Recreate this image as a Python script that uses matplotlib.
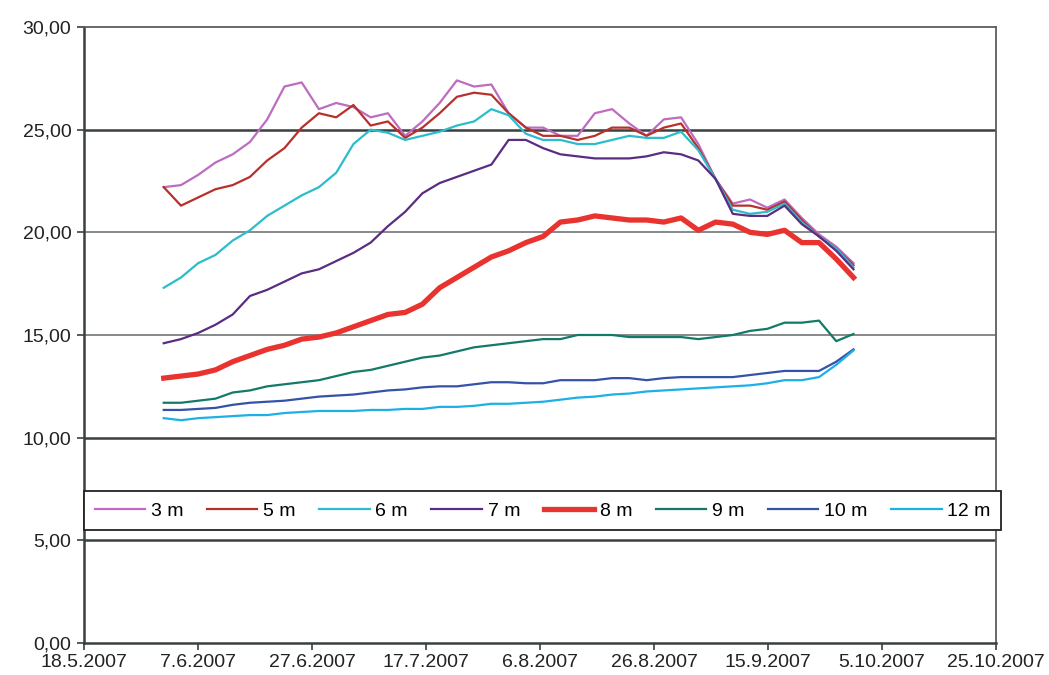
import numpy as np
import pandas as pd
import matplotlib
matplotlib.use('Agg')
import matplotlib.pyplot as plt
import matplotlib.dates as mdates
from matplotlib.ticker import FuncFormatter

# sampling dates (about every 3 days, 1.6. - 30.9.2007)
dates = pd.date_range('2007-06-01', '2007-09-30', periods=41)

# water temperature per depth
t3 = [22.2, 22.3, 22.8, 23.4, 23.8, 24.4, 25.5, 27.1, 27.3, 26.0, 26.3, 26.1, 25.6, 25.8,
      24.7, 25.4, 26.3, 27.4, 27.1, 27.2, 25.8, 25.1, 25.1, 24.7, 24.7, 25.8, 26.0,
      25.3, 24.7, 25.5, 25.6, 24.3, 22.6, 21.4, 21.6, 21.2, 21.6, 20.7, 19.9, 19.3, 18.5]
t5 = [22.2, 21.3, 21.7, 22.1, 22.3, 22.7, 23.5, 24.1, 25.1, 25.8, 25.6, 26.2, 25.2, 25.4,
      24.6, 25.1, 25.8, 26.6, 26.8, 26.7, 25.8, 25.1, 24.7, 24.7, 24.5, 24.7, 25.1,
      25.1, 24.7, 25.1, 25.3, 24.1, 22.6, 21.3, 21.3, 21.1, 21.5, 20.6, 19.8, 19.2, 18.4]
t6 = [17.3, 17.8, 18.5, 18.9, 19.6, 20.1, 20.8, 21.3, 21.8, 22.2, 22.9, 24.3, 25.0, 24.85,
      24.5, 24.7, 24.9, 25.2, 25.4, 26.0, 25.7, 24.8, 24.5, 24.5, 24.3, 24.3, 24.5,
      24.7, 24.6, 24.6, 24.9, 24.0, 22.6, 21.1, 20.9, 21.0, 21.4, 20.5, 19.8, 19.2, 18.3]
t7 = [14.6, 14.8, 15.1, 15.5, 16.0, 16.9, 17.2, 17.6, 18.0, 18.2, 18.6, 19.0, 19.5, 20.3,
      21.0, 21.9, 22.4, 22.7, 23.0, 23.3, 24.5, 24.5, 24.1, 23.8, 23.7, 23.6, 23.6,
      23.6, 23.7, 23.9, 23.8, 23.5, 22.6, 20.9, 20.8, 20.8, 21.3, 20.4, 19.8, 19.1, 18.2]
t8 = [12.9, 13.0, 13.1, 13.3, 13.7, 14.0, 14.3, 14.5, 14.8, 14.9, 15.1, 15.4, 15.7, 16.0,
      16.1, 16.5, 17.3, 17.8, 18.3, 18.8, 19.1, 19.5, 19.8, 20.5, 20.6, 20.8, 20.7,
      20.6, 20.6, 20.5, 20.7, 20.1, 20.5, 20.4, 20.0, 19.9, 20.1, 19.5, 19.5, 18.7, 17.8]
t9 = [11.7, 11.7, 11.8, 11.9, 12.2, 12.3, 12.5, 12.6, 12.7, 12.8, 13.0, 13.2, 13.3, 13.5,
      13.7, 13.9, 14.0, 14.2, 14.4, 14.5, 14.6, 14.7, 14.8, 14.8, 15.0, 15.0, 15.0,
      14.9, 14.9, 14.9, 14.9, 14.8, 14.9, 15.0, 15.2, 15.3, 15.6, 15.6, 15.7, 14.7, 15.05]
t10 = [11.35, 11.35, 11.4, 11.45, 11.6, 11.7, 11.75, 11.8, 11.9, 12.0, 12.05, 12.1, 12.2, 12.3,
       12.35, 12.45, 12.5, 12.5, 12.6, 12.7, 12.7, 12.65, 12.65, 12.8, 12.8, 12.8, 12.9,
       12.9, 12.8, 12.9, 12.95, 12.95, 12.95, 12.95, 13.05, 13.15, 13.25, 13.25, 13.25, 13.7, 14.3]
t12 = [10.95, 10.85, 10.95, 11.0, 11.05, 11.1, 11.1, 11.2, 11.25, 11.3, 11.3, 11.3, 11.35, 11.35,
       11.4, 11.4, 11.5, 11.5, 11.55, 11.65, 11.65, 11.7, 11.75, 11.85, 11.95, 12.0, 12.1,
       12.15, 12.25, 12.3, 12.35, 12.4, 12.45, 12.5, 12.55, 12.65, 12.8, 12.8, 12.95, 13.55, 14.25]

labels = ['3 m', '5 m', '6 m', '7 m', '8 m', '9 m', '10 m', '12 m']
series = [t3, t5, t6, t7, t8, t9, t10, t12]
colors = ['#bd6cbf', '#b8302c', '#2bbdcb', '#5a2c82', '#e8332f', '#137a6a', '#3452a8', '#1db0e6']
widths = [1.6, 1.6, 1.6, 1.6, 3.8, 1.6, 1.6, 1.6]

yticks = [0, 5, 10, 15, 20, 25, 30]

plt.rcParams['font.family'] = ['Liberation Sans', 'DejaVu Sans']

fig = plt.figure(figsize=(10.49, 6.75), dpi=100)
ax = fig.add_axes([0.080, 0.0474, 0.8695, 0.9126])

# horizontal grid, some lines darker like in the original
for v in [5, 10, 25]:
    ax.axhline(v, color='#3a3f3f', lw=1.8, zorder=1)
for v in [15, 20]:
    ax.axhline(v, color='#7d8080', lw=1.3, zorder=1)

for vals, lab, c, w in zip(series, labels, colors, widths):
    ax.plot(dates, vals, color=c, lw=w, label=lab, zorder=3)

ax.set_xlim(pd.Timestamp('2007-05-18'), pd.Timestamp('2007-10-25'))
ax.set_ylim(0, 30)
ax.set_yticks(yticks)
ax.yaxis.set_major_formatter(FuncFormatter(lambda v, p: ('%.2f' % v).replace('.', ',')))

xt = pd.date_range('2007-05-18', '2007-10-25', freq='20D')
ax.set_xticks(xt)
ax.xaxis.set_major_formatter(FuncFormatter(
    lambda v, p: '%d.%d.%d' % (mdates.num2date(v).day, mdates.num2date(v).month, mdates.num2date(v).year)))

ax.tick_params(axis='both', direction='out', length=5, width=1.2, color='#3a3f3f',
               labelsize=14, labelcolor='#222222')
ax.tick_params(axis='x', pad=3)
ax.tick_params(axis='y', pad=4)
for s in ['left', 'bottom']:
    ax.spines[s].set_linewidth(1.8)
    ax.spines[s].set_color('#3a3f3f')
for s in ['top', 'right']:
    ax.spines[s].set_linewidth(1.3)
    ax.spines[s].set_color('#5a5f5f')

leg = ax.legend(loc='lower left', bbox_to_anchor=(0.0, 0.183, 1.006, 0.067), mode='expand',
                ncol=8, frameon=True, fancybox=False, fontsize=14, handlelength=2.6,
                handletextpad=0.3, borderaxespad=0, borderpad=0.55, columnspacing=0.8)
leg.get_frame().set_edgecolor('#222222')
leg.get_frame().set_linewidth(1.3)
leg.get_frame().set_alpha(1)
leg.set_zorder(5)

fig.savefig('out.png', dpi=100)
